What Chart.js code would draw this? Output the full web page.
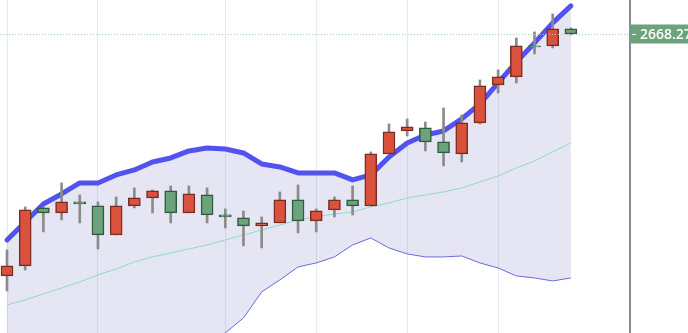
<!DOCTYPE html>
<html lang="en">
<head>
    <meta charset="UTF-8">
    <title>Candles with bands</title>
    <script src="https://cdn.jsdelivr.net/npm/chart.js"></script>
    <style>
        html, body { margin: 0; padding: 0; background: #fff; }
        #wrap { width: 688px; height: 333px; }
    </style>
</head>
<body>
<div id="wrap"><canvas id="bandChart"></canvas></div>
<script>
    // daily candles
    const opens  = [2547.3, 2552.3, 2581.3, 2578.8, 2584.3, 2582.3, 2567.8, 2582.3, 2586.3, 2589.8, 2578.8, 2587.8, 2577.8, 2576.3, 2572.3, 2573.8,
                    2585.3, 2574.8, 2580.3, 2585.3, 2582.3, 2608.3, 2619.8, 2621.3, 2614.3, 2608.3, 2623.8, 2642.8, 2646.8, 2662.3, 2662.3, 2670.8];
    const highs  = [2560.3, 2581.8, 2581.8, 2593.8, 2587.8, 2584.3, 2586.8, 2591.3, 2590.3, 2592.3, 2592.3, 2591.3, 2580.8, 2579.8, 2576.8, 2589.3,
                    2592.8, 2580.8, 2586.8, 2592.3, 2609.3, 2623.3, 2625.8, 2624.3, 2631.3, 2627.8, 2645.3, 2650.3, 2666.3, 2669.3, 2678.3, 2671.3];
    const lows   = [2539.8, 2550.3, 2569.3, 2575.3, 2573.8, 2560.8, 2567.8, 2581.3, 2578.8, 2573.8, 2578.8, 2573.8, 2571.3, 2562.3, 2561.3, 2573.8,
                    2568.8, 2569.3, 2576.8, 2577.8, 2582.3, 2608.3, 2617.3, 2609.8, 2602.3, 2604.3, 2623.3, 2638.8, 2643.8, 2658.3, 2661.3, 2667.8];
    const closes = [2552.3, 2580.3, 2578.8, 2584.3, 2583.3, 2567.8, 2582.3, 2586.3, 2589.8, 2578.8, 2588.3, 2577.8, 2576.8, 2572.3, 2573.8, 2585.3,
                    2574.8, 2579.8, 2585.3, 2582.3, 2608.3, 2619.3, 2621.8, 2614.3, 2608.8, 2623.8, 2642.3, 2646.8, 2662.3, 2661.8, 2670.8, 2668.27];

    // bands
    const upperBand = [2565.3, 2574.3, 2583.3, 2588.3, 2593.8, 2593.8, 2597.8, 2600.3, 2604.3, 2606.3, 2609.8, 2611.3, 2610.8, 2608.8, 2603.3, 2601.8,
                       2598.8, 2598.8, 2598.8, 2595.3, 2597.8, 2606.8, 2613.8, 2617.8, 2619.8, 2625.8, 2633.3, 2643.8, 2654.3, 2663.8, 2673.8, 2682.3];
    const middleBand = [2532.8, 2535.3, 2538.3, 2541.3, 2544.3, 2547.8, 2550.8, 2554.3, 2556.8, 2558.8, 2560.8, 2562.8, 2565.3, 2567.8, 2570.3, 2572.8,
                        2575.3, 2576.8, 2578.3, 2579.3, 2581.8, 2583.8, 2586.3, 2587.8, 2589.3, 2591.3, 2594.3, 2597.3, 2601.3, 2604.8, 2609.3, 2613.8];
    const lowerBand = [2500.3, 2496.3, 2493.3, 2494.3, 2494.8, 2501.8, 2503.8, 2508.3, 2509.3, 2511.3, 2511.8, 2514.3, 2518.8, 2526.3, 2539.3, 2545.3,
                       2551.8, 2553.8, 2556.8, 2562.8, 2566.3, 2561.3, 2558.3, 2556.8, 2556.8, 2557.3, 2553.8, 2551.3, 2547.3, 2546.3, 2544.8, 2546.3];

    const gridDays = [0, 5, 12, 17, 22, 27];

    const upColor = '#da523d', upBorder = '#7c2b20';
    const downColor = '#6ca27c', downBorder = '#2f5b3c';

    const idx = closes.map((_, i) => i);
    const bodies = idx.map(i => ({ x: i, y: [opens[i], closes[i]] }));
    const wicks = idx.map(i => ({ x: i, y: [lows[i], highs[i]] }));
    const isUp = idx.map(i => closes[i] >= opens[i]);
    const asLine = arr => arr.map((v, i) => ({ x: i, y: v }));

    const lastClose = closes[closes.length - 1];

    const priceTag = {
        id: 'priceTag',
        afterDraw(chart) {
            const { ctx, chartArea } = chart;
            const y = Math.round(chart.scales.y.getPixelForValue(lastClose)) + 0.5;
            ctx.save();
            ctx.strokeStyle = '#a7c7c1';
            ctx.lineWidth = 1;
            ctx.setLineDash([1, 2]);
            ctx.beginPath();
            ctx.moveTo(0, y);
            ctx.lineTo(chartArea.right, y);
            ctx.stroke();
            ctx.setLineDash([]);
            const left = chartArea.right;
            ctx.fillStyle = '#6ca27c';
            ctx.fillRect(left, y - 10, chart.width - left, 19);
            ctx.strokeStyle = '#ffffff';
            ctx.beginPath();
            ctx.moveTo(left + 2, y);
            ctx.lineTo(left + 6, y);
            ctx.stroke();
            ctx.fillStyle = '#ffffff';
            ctx.font = '600 14px "Open Sans", Arial, sans-serif';
            ctx.textBaseline = 'middle';
            ctx.textAlign = 'left';
            ctx.fillText(lastClose.toFixed(2), left + 10, y + 0.5);
            ctx.restore();
        }
    };

    const ctx = document.getElementById('bandChart').getContext('2d');
    new Chart(ctx, {
        type: 'bar',
        data: {
            datasets: [
                {
                    type: 'line',
                    label: 'Upper',
                    data: asLine(upperBand),
                    borderColor: '#5252ee',
                    borderWidth: 5,
                    borderCapStyle: 'round',
                    borderJoinStyle: 'round',
                    pointRadius: 0,
                    tension: 0,
                    fill: { target: '+1', above: 'rgba(98, 98, 186, 0.17)', below: 'rgba(98, 98, 186, 0.17)' },
                    order: 10
                },
                {
                    type: 'line',
                    label: 'Lower',
                    data: asLine(lowerBand),
                    borderColor: '#6a6ae0',
                    borderWidth: 1,
                    pointRadius: 0,
                    tension: 0,
                    fill: false,
                    order: 11
                },
                {
                    type: 'line',
                    label: 'Middle',
                    data: asLine(middleBand),
                    borderColor: '#8fdcc0',
                    borderWidth: 1,
                    pointRadius: 0,
                    tension: 0,
                    fill: false,
                    order: 9
                },
                {
                    label: 'Wicks',
                    data: wicks,
                    backgroundColor: '#8b8b8b',
                    borderWidth: 0,
                    barThickness: 2,
                    grouped: false,
                    order: 2
                },
                {
                    label: 'Bodies',
                    data: bodies,
                    backgroundColor: isUp.map(u => u ? upColor : downColor),
                    borderColor: isUp.map(u => u ? upBorder : downBorder),
                    borderWidth: 1.5,
                    borderSkipped: false,
                    barThickness: 12,
                    grouped: false,
                    order: 1
                }
            ]
        },
        options: {
            responsive: true,
            maintainAspectRatio: false,
            animation: false,
            layout: { padding: 0 },
            scales: {
                x: {
                    type: 'linear',
                    offset: false,
                    bounds: 'data',
                    min: -0.385,
                    max: 34.25,
                    afterBuildTicks: s => { s.ticks = gridDays.map(v => ({ value: v })); },
                    afterFit: s => { s.height = 0; },
                    ticks: { display: false },
                    grid: { color: '#e4ebf1', lineWidth: 1, drawTicks: false, offset: false },
                    border: { display: false }
                },
                y: {
                    position: 'right',
                    min: 2518.77,
                    max: 2685.27,
                    afterFit: s => { s.width = 58; },
                    ticks: { display: false },
                    grid: { display: false, drawTicks: false },
                    border: { display: true, color: '#8a8a8a', width: 2 }
                }
            },
            plugins: {
                legend: { display: false },
                tooltip: { enabled: false },
                filler: { drawTime: 'beforeDatasetsDraw' }
            }
        },
        plugins: [priceTag]
    });
</script>
</body>
</html>
